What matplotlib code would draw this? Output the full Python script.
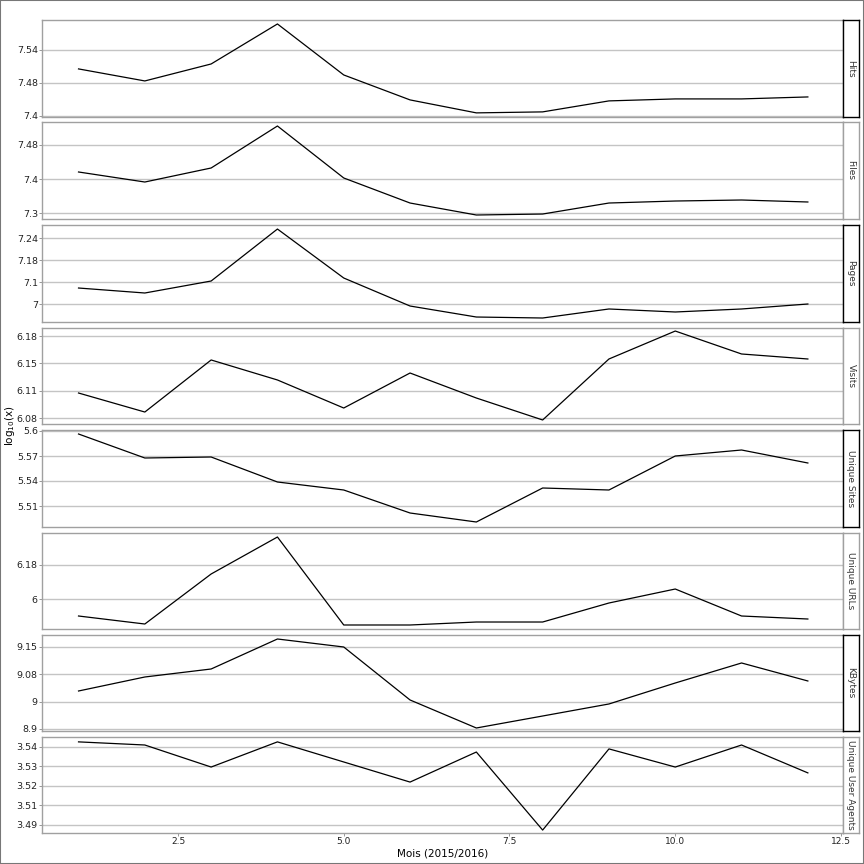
import matplotlib
matplotlib.use("Agg")
import matplotlib.pyplot as plt
import numpy as np

months = list(range(1, 13))
panels = ["Hits", "Files", "Pages", "Visits", "Unique Sites", "Unique URLs", "KBytes", "Unique User Agents"]

hits = [7.5055, 7.4836, 7.5145, 7.5873, 7.4945, 7.4491, 7.4255, 7.4273, 7.4473, 7.4509, 7.4509, 7.4545]
files = [7.4165, 7.3929, 7.4259, 7.5247, 7.4024, 7.3435, 7.3153, 7.3176, 7.3435, 7.3482, 7.3506, 7.3459]
pages = [7.1036, 7.0900, 7.1227, 7.2645, 7.1309, 7.0545, 7.0245, 7.0218, 7.0464, 7.0382, 7.0464, 7.0600]
visits = [6.1105, 6.0873, 6.1508, 6.1264, 6.0922, 6.1349, 6.1044, 6.0776, 6.1520, 6.1861, 6.1581, 6.1520]
sites = [5.5964, 5.5676, 5.5688, 5.5388, 5.5292, 5.5016, 5.4908, 5.5316, 5.5292, 5.5700, 5.5772, 5.5616]
urls = [5.9100, 5.8676, 6.1324, 6.3282, 5.8624, 5.8624, 5.8782, 5.8782, 5.9788, 6.0529, 5.9100, 5.8941]
kbytes = [9.0212, 9.0622, 9.0856, 9.1734, 9.1500, 8.9949, 8.9129, 8.9480, 8.9832, 9.0446, 9.1032, 9.0505]
agents = [3.5426, 3.5410, 3.5297, 3.5426, 3.5323, 3.5220, 3.5374, 3.4974, 3.5390, 3.5297, 3.5410, 3.5267]
series = [hits, files, pages, visits, sites, urls, kbytes, agents]

tick_vals = [
    [7.42, 7.48, 7.54],
    [7.32, 7.40, 7.48],
    [7.06, 7.12, 7.18, 7.24],
    [6.08, 6.11333, 6.14667, 6.18],
    [5.51, 5.54, 5.57, 5.60],
    [6.00, 6.18],
    [8.91, 8.99, 9.07, 9.15],
    [3.50, 3.51, 3.52, 3.53, 3.54],
]
tick_labels = [
    ["7.4", "7.48", "7.54"],
    ["7.3", "7.4", "7.48"],
    ["7", "7.1", "7.18", "7.24"],
    ["6.08", "6.11", "6.15", "6.18"],
    ["5.51", "5.54", "5.57", "5.6"],
    ["6", "6.18"],
    ["8.9", "9", "9.08", "9.15"],
    ["3.49", "3.51", "3.52", "3.53", "3.54"],
]
ylims = [
    (7.418, 7.5945),
    (7.3059, 7.5341),
    (7.0109, 7.2755),
    (6.0727, 6.1898),
    (5.4848, 5.6012),
    (5.8412, 6.3494),
    (8.9041, 9.1851),
    (3.4959, 3.5451),
]
xticks = [2.5, 5.0, 7.5, 10.0, 12.5]

W = H = 864
fig = plt.figure(figsize=(8.64, 8.64), dpi=100)
fig.patch.set_facecolor("white")

tops = [20, 122, 225, 328, 430, 533, 635, 737]
bots = [117, 219, 322, 424, 527, 629, 731, 833]
left_px, right_px, strip_r = 42, 843, 859

grid_col = "#c4c4c4"
frame_col = "#a0a0a0"

for i, (name, vals) in enumerate(zip(panels, series)):
    t, b = tops[i], bots[i]
    ax = fig.add_axes([left_px / W, 1 - b / H, (right_px - left_px) / W, (b - t) / H])
    ax.plot(months, vals, color="black", lw=0.9)
    ax.set_xlim(0.449, 12.53)
    ax.set_ylim(*ylims[i])
    ax.set_yticks(tick_vals[i])
    ax.set_yticklabels(tick_labels[i], fontsize=6.8, color="#222222")
    for v in tick_vals[i]:
        ax.axhline(v, color=grid_col, lw=1.0, zorder=0)
    for s in ax.spines.values():
        s.set_color(frame_col)
        s.set_linewidth(1.0)
    ax.tick_params(axis="y", length=2, width=0.6, color="#888888", pad=1)
    ax.set_xticks(xticks)
    if i == len(panels) - 1:
        ax.set_xticklabels([f"{x:.1f}" for x in xticks], fontsize=6.5, color="#222222")
        ax.tick_params(axis="x", length=2, width=0.6, color="#888888", pad=1)
        ax.set_xlabel("Mois (2015/2016)", fontsize=7.5, labelpad=2)
    else:
        ax.tick_params(axis="x", length=0, labelbottom=False)
    # strip
    sax = fig.add_axes([right_px / W, 1 - b / H, (strip_r - right_px) / W, (b - t) / H])
    sax.set_xticks([])
    sax.set_yticks([])
    sax.set_facecolor("white")
    sc = "black" if i % 2 == 0 else frame_col
    for s in sax.spines.values():
        s.set_color(sc)
        s.set_linewidth(1.0)
    sax.text(0.5, 0.5, name, rotation=-90, ha="center", va="center",
             fontsize=6.5, color="#333333", transform=sax.transAxes)

fig.text(10 / W, 1 - 426 / H, r"log$_{10}$(x)", rotation=90, ha="center", va="center", fontsize=7.5)

# outer border
fig.add_artist(plt.Rectangle((0.0005, 0.0005), 0.999, 0.999, transform=fig.transFigure,
                             fill=False, edgecolor="#777777", lw=1.5))

fig.savefig("out.png", dpi=100, facecolor="white")
